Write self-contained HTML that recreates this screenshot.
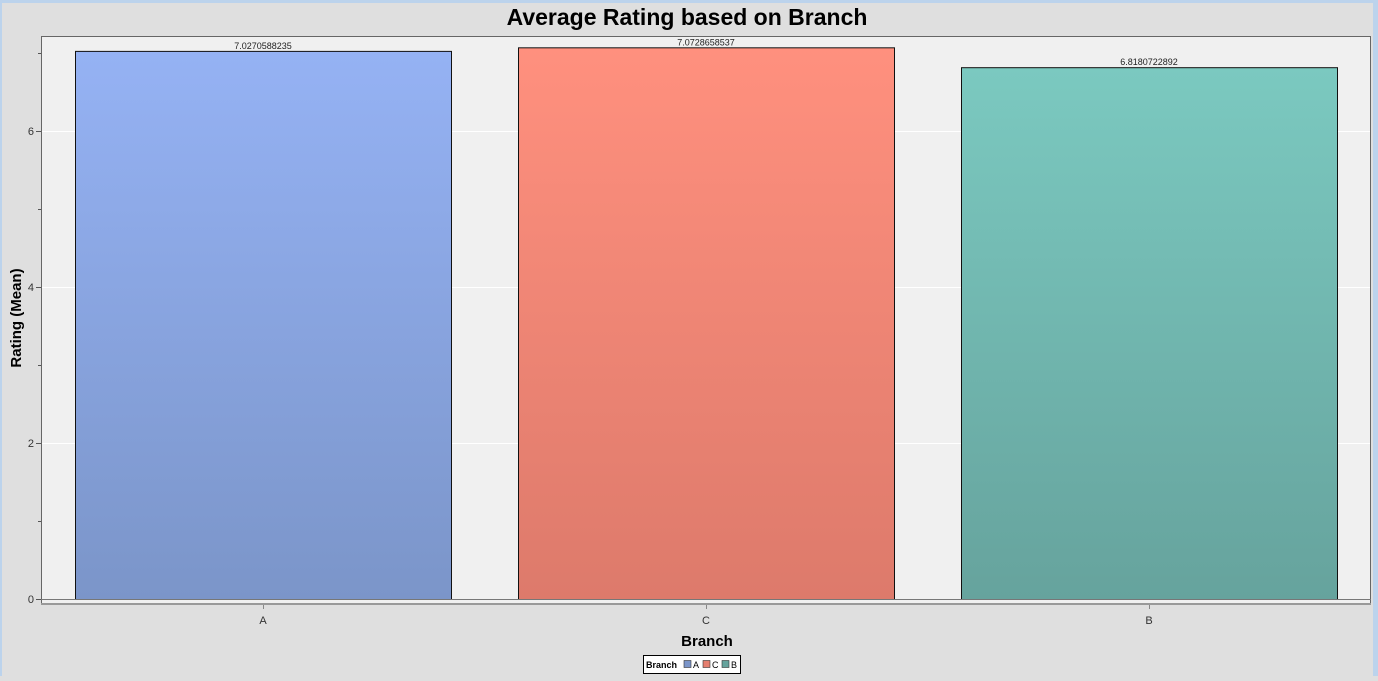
<!DOCTYPE html>
<html><head><meta charset="utf-8"><style>
body{margin:0;width:1378px;height:676px;overflow:hidden;background:#dfdfdf;font-family:"Liberation Sans",sans-serif}
</style></head><body>
<svg width="1378" height="676" xmlns="http://www.w3.org/2000/svg">
<defs>
<linearGradient id="gA" x1="0" y1="0" x2="0" y2="1"><stop offset="0" stop-color="#95b2f4"/><stop offset="1" stop-color="#7b95c9"/></linearGradient>
<linearGradient id="gC" x1="0" y1="0" x2="0" y2="1"><stop offset="0" stop-color="#ff907e"/><stop offset="1" stop-color="#dd7a6b"/></linearGradient>
<linearGradient id="gB" x1="0" y1="0" x2="0" y2="1"><stop offset="0" stop-color="#7bc9c0"/><stop offset="1" stop-color="#66a39d"/></linearGradient>
</defs>
<rect x="0" y="0" width="1378" height="3" fill="#bcd3ec"/>
<rect x="0" y="0" width="2" height="676" fill="#bcd3ec"/>
<rect x="1373" y="0" width="5" height="676" fill="#bcd3ec"/>
<text x="687" y="25" text-anchor="middle" font-size="23" font-weight="bold" fill="#000">Average Rating based on Branch</text>
<rect x="41.5" y="36.5" width="1329" height="568" fill="#f0f0f0" stroke="#666"/>
<g id="grid"></g>
<g id="bars"></g>
<g id="yaxis"></g>
<g id="xaxis"></g>
<text transform="translate(21,318) rotate(-90)" text-anchor="middle" font-size="15" font-weight="bold">Rating (Mean)</text>
<text x="707" y="646" text-anchor="middle" font-size="15" font-weight="bold">Branch</text>
<g>
<rect x="643.5" y="655.5" width="97" height="18" fill="#fff" stroke="#000"/>
<text x="646" y="668" font-size="9" font-weight="bold">Branch</text>
<rect x="684" y="660.5" width="7" height="7" fill="#7b95c9" stroke="#333" stroke-width="0.6"/>
<text x="693" y="668" font-size="9">A</text>
<rect x="703" y="660.5" width="7" height="7" fill="#e57f6f" stroke="#333" stroke-width="0.6"/>
<text x="712" y="668" font-size="9">C</text>
<rect x="722" y="660.5" width="7" height="7" fill="#66a39d" stroke="#333" stroke-width="0.6"/>
<text x="731" y="668" font-size="9">B</text>
</g>
</svg>
<script>
const categories=["A","C","B"];
const values=[7.0270588235,7.0728658537,6.8180722892];
const labels=["7.0270588235","7.0728658537","6.8180722892"];
const yTicks=[0,2,4,6];
const yMinorTicks=[1,3,5,7];
const fills=["url(#gA)","url(#gC)","url(#gB)"];
const NS="http://www.w3.org/2000/svg";
function y(v){return 599-v*78;}
function xc(i){return 263+i*443;}
const bw=376;
function mk(tag,attrs,parent,txt){const e=document.createElementNS(NS,tag);for(const k in attrs)e.setAttribute(k,attrs[k]);if(txt!=null)e.textContent=txt;parent.appendChild(e);return e;}
const grid=document.getElementById('grid'),bars=document.getElementById('bars'),ya=document.getElementById('yaxis'),xa=document.getElementById('xaxis');
yTicks.forEach(t=>{
 if(t>0){const g=mk('line',{x1:42,x2:1370,y1:y(t)+0.5,y2:y(t)+0.5,stroke:'#fff'},grid);
 
 }
 mk('line',{x1:36,x2:41,y1:y(t)+0.5,y2:y(t)+0.5,stroke:'#555'},ya);
 const l=mk('text',{x:34,y:y(t)+4,'text-anchor':'end','font-size':11,fill:'#333'},ya,String(t));
 
 
});
yMinorTicks.forEach(t=>{mk('line',{x1:38,x2:41,y1:y(t)+0.5,y2:y(t)+0.5,stroke:'#555'},ya);});
categories.forEach((c,i)=>{
 const top=y(values[i]);
 const r=mk('rect',{x:xc(i)-bw/2+0.5,y:top+0.5,width:bw,height:599-top,fill:fills[i],stroke:'#111'},bars);
 
 
 const t=mk('text',{x:xc(i),y:top-2,'text-anchor':'middle','font-size':9,fill:'#222'},bars,labels[i]);
 
 
 mk('line',{x1:xc(i)+0.5,x2:xc(i)+0.5,y1:604,y2:609,stroke:'#888'},xa);
 const xl=mk('text',{x:xc(i),y:624,'text-anchor':'middle','font-size':11,fill:'#333'},xa,c);
 
 
});
const ax=mk('line',{x1:41,x2:1371,y1:599.5,y2:599.5,stroke:'#777'},xa);


mk('line',{x1:41,x2:1371,y1:604,y2:604,stroke:'#999','stroke-width':2},xa);
</script>
</body></html>
